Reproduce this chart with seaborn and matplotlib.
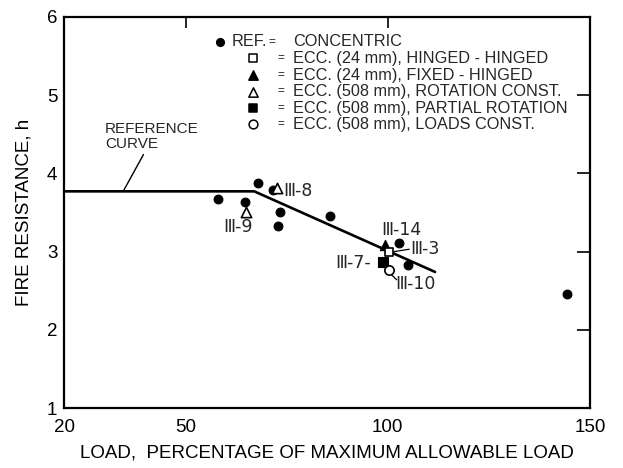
import matplotlib
matplotlib.use("Agg")
import matplotlib.pyplot as plt
import seaborn as sns

# ---------------- data ----------------
ref_curve_x = [20.0, 67.0, 111.7]
ref_curve_y = [3.77, 3.77, 2.74]

conc_x = [58.0, 64.7, 67.9, 71.7, 73.4, 72.8, 85.7, 102.8, 104.9, 144.3]
conc_y = [3.67, 3.64, 3.88, 3.79, 3.50, 3.33, 3.46, 3.11, 2.83, 2.46]

hh_x, hh_y = [100.2], [2.99]             # ECC. (24 mm), HINGED - HINGED
fh_x, fh_y = [99.4], [3.09]              # ECC. (24 mm), FIXED - HINGED
rc_x, rc_y = [64.9, 72.6], [3.50, 3.81]  # ECC. (508 mm), ROTATION CONST.
pr_x, pr_y = [98.9], [2.87]              # ECC. (508 mm), PARTIAL ROTATION
lc_x, lc_y = [100.4], [2.76]             # ECC. (508 mm), LOADS CONST.

legend_labels = ["CONCENTRIC",
                 "ECC. (24 mm), HINGED - HINGED",
                 "ECC. (24 mm), FIXED - HINGED",
                 "ECC. (508 mm), ROTATION CONST.",
                 "ECC. (508 mm), PARTIAL ROTATION",
                 "ECC. (508 mm), LOADS CONST."]

specimen_labels = ["\u2162-8", "\u2162-9", "\u2162-14", "\u2162-3", "\u2162-7-", "\u2162-10"]
specimen_pos = [(74.2, 3.78), (59.4, 3.32), (98.5, 3.28), (105.5, 3.03), (87.0, 2.85), (101.8, 2.58)]

x_ticks = [20, 50, 100, 150]
y_ticks = [1, 2, 3, 4, 5, 6]

# ---------------- style ----------------
sns.set_theme(style="white")
plt.rcParams["font.family"] = ["Liberation Sans", "DejaVu Sans"]

fig = plt.figure(figsize=(6.23, 4.68), dpi=100)
ax = fig.add_axes([0.103, 0.128, 0.844, 0.836])

sns.lineplot(x=ref_curve_x, y=ref_curve_y, color="black", linewidth=1.9, ax=ax,
             estimator=None, sort=False)

sns.scatterplot(x=conc_x, y=conc_y, marker="o", color="black", edgecolor="black",
                s=40, linewidth=0.8, ax=ax, zorder=3)
sns.scatterplot(x=fh_x, y=fh_y, marker="^", color="black", edgecolor="black",
                s=55, linewidth=0.8, ax=ax, zorder=3)
sns.scatterplot(x=pr_x, y=pr_y, marker="s", color="black", edgecolor="black",
                s=45, linewidth=0.8, ax=ax, zorder=3)
sns.scatterplot(x=rc_x, y=rc_y, marker="^", color="white", edgecolor="black",
                s=55, linewidth=1.2, ax=ax, zorder=4)
sns.scatterplot(x=hh_x, y=hh_y, marker="s", color="white", edgecolor="black",
                s=40, linewidth=1.2, ax=ax, zorder=4)
sns.scatterplot(x=lc_x, y=lc_y, marker="o", color="white", edgecolor="black",
                s=45, linewidth=1.2, ax=ax, zorder=4)

ax.set_xlim(20, 150)
ax.set_ylim(1, 6)
ax.set_xticks(x_ticks)
ax.set_yticks(y_ticks)
ax.tick_params(axis="x", direction="in", length=8, width=1.2, top=True,
               labelsize=13.5, pad=8, colors="black")
ax.tick_params(axis="y", direction="in", length=9.5, width=1.2, right=True,
               labelsize=13.5, pad=5, colors="black")
for sp in ax.spines.values():
    sp.set_linewidth(1.6)
    sp.set_color("black")

ax.set_xlabel("LOAD,  PERCENTAGE OF MAXIMUM ALLOWABLE LOAD", fontsize=13.5,
              labelpad=6, color="black")
ax.set_ylabel("FIRE RESISTANCE, h", fontsize=13.5, labelpad=10, color="black")

# ---------------- legend (custom layout) ----------------
leg_fs = 11.7
row_y = [0.936, 0.894, 0.851, 0.809, 0.767, 0.726]
mk_styles = [("o", "black", 30), ("s", "white", 34), ("^", "black", 45),
             ("^", "white", 45), ("s", "black", 38), ("o", "white", 40)]
for i, (lab, (mk, fc, s)) in enumerate(zip(legend_labels, mk_styles)):
    mx = 0.297 if i == 0 else 0.359
    ax.scatter([mx], [row_y[i]], marker=mk, s=s, facecolor=fc, edgecolor="black",
               linewidth=1.1, transform=ax.transAxes, zorder=5, clip_on=False)
    if i == 0:
        ax.text(0.319, row_y[i], "REF.", transform=ax.transAxes,
                fontsize=leg_fs, va="center", ha="left")
        ax.text(0.395, row_y[i], "=", transform=ax.transAxes,
                fontsize=8.5, va="center", ha="center")
    else:
        ax.text(0.413, row_y[i], "=", transform=ax.transAxes,
                fontsize=8.5, va="center", ha="center")
    ax.text(0.435, row_y[i], lab, transform=ax.transAxes,
            fontsize=leg_fs, va="center", ha="left")

# ---------------- annotations ----------------
ax.text(30.1, 4.47, "REFERENCE\nCURVE", fontsize=11, ha="left", va="center",
        linespacing=1.05)
ax.plot([39.6, 34.7], [4.24, 3.78], color="black", linewidth=1.0)

for lab, (tx, ty) in zip(specimen_labels, specimen_pos):
    ax.text(tx, ty, lab, fontsize=12.5, ha="left", va="center",
            family=["DejaVu Sans"])

# leader lines for III-3 and III-10
ax.plot([101.6, 105.3], [3.00, 3.03], color="black", linewidth=0.9)
ax.plot([100.8, 102.2], [2.71, 2.64], color="black", linewidth=0.9)

fig.savefig("out.png", dpi=100)
